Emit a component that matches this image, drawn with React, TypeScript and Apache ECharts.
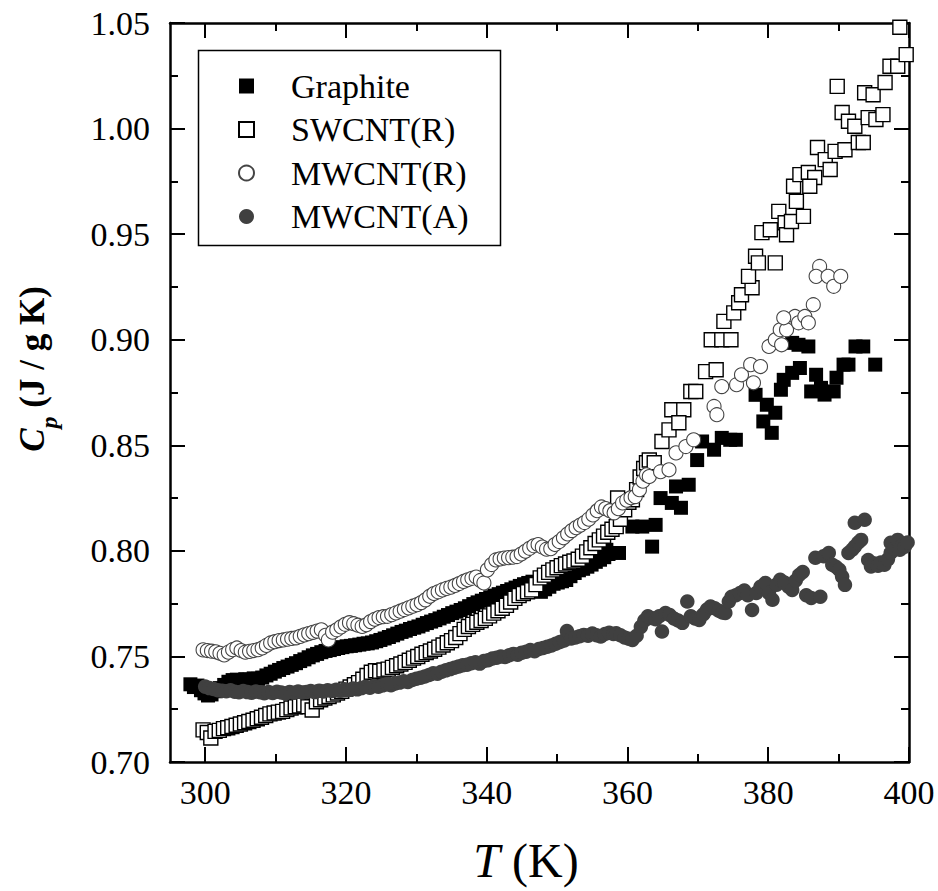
import React, { useEffect, useRef } from "react";
import * as echarts from "echarts";

// [T (K), Cp (J/g K)]
const graphite: [number, number][] = [
  [297.9,0.7368],[298.4,0.7355],[298.9,0.7362],[299.4,0.7340],[299.9,0.7325],[300.4,0.7315],[300.9,0.7320],[301.5,0.7335],
  [302.1,0.7350],[302.7,0.7365],[303.3,0.7380],[303.9,0.7388],[304.5,0.7390],[305.1,0.7386],[305.7,0.7392],[306.3,0.7390],
  [306.9,0.7396],[307.5,0.7394],[308.1,0.7400],[308.7,0.7410],[309.3,0.7418],[309.9,0.7428],[310.5,0.7436],[311.1,0.7445],
  [311.7,0.7452],[312.3,0.7460],[312.9,0.7468],[313.5,0.7478],[314.1,0.7486],[314.7,0.7496],[315.3,0.7505],[315.9,0.7512],
  [316.5,0.7520],[317.1,0.7526],[317.7,0.7530],[318.3,0.7535],[318.9,0.7540],[319.5,0.7544],[320.1,0.7548],[320.7,0.7550],
  [321.3,0.7553],[321.9,0.7556],[322.5,0.7560],[323.1,0.7562],[323.7,0.7566],[324.3,0.7572],[324.9,0.7578],[325.5,0.7585],
  [326.1,0.7592],[326.7,0.7600],[327.3,0.7608],[327.9,0.7616],[328.5,0.7622],[329.1,0.7630],[329.7,0.7636],[330.3,0.7642],
  [330.9,0.7650],[331.5,0.7658],[332.1,0.7665],[332.7,0.7672],[333.3,0.7680],[333.9,0.7688],[334.5,0.7696],[335.1,0.7705],
  [335.7,0.7712],[336.3,0.7720],[336.9,0.7728],[337.5,0.7738],[338.1,0.7748],[338.7,0.7756],[339.3,0.7764],[339.9,0.7772],
  [340.5,0.7780],[341.1,0.7788],[341.7,0.7795],[342.3,0.7802],[342.9,0.7810],[343.5,0.7818],[344.1,0.7826],[344.7,0.7834],
  [345.3,0.7842],[345.9,0.7848],[346.5,0.7854],[347.1,0.7812],[347.7,0.7806],[348.3,0.7818],[348.9,0.7830],[349.5,0.7844],
  [350.1,0.7850],[350.7,0.7856],[351.3,0.7862],[351.9,0.7880],[352.5,0.7895],[353.1,0.7908],[353.7,0.7915],[354.3,0.7925],
  [354.9,0.7935],[355.5,0.7948],[356.1,0.7958],[356.7,0.7970],[357.3,0.7985],
  [357.0,0.8005],[358.8,0.7990],[363.5,0.8020],[360.7,0.8115],[362.1,0.8115],[364.0,0.8123],[364.7,0.8250],[366.3,0.8227],
  [367.6,0.8204],[366.9,0.8305],[368.7,0.8313],[369.9,0.8430],[370.6,0.8518],[372.3,0.8479],[373.4,0.8535],[374.6,0.8526],
  [375.4,0.8526],[378.2,0.8739],[379.8,0.8692],[381.0,0.8654],[379.3,0.8613],[380.5,0.8559],[381.8,0.8763],[382.2,0.8810],
  [383.4,0.8843],[384.5,0.8866],[383.4,0.8985],[384.3,0.8976],[385.7,0.8968],[386.8,0.8834],[386.1,0.8755],[387.5,0.8772],
  [388.0,0.8740],[389.3,0.8755],[389.7,0.8820],[390.7,0.8882],[391.4,0.8882],[392.4,0.8968],[393.5,0.8968],[395.2,0.8882]
];

const swcntR: [number, number][] = [
  [299.7,0.7152],[300.3,0.7140],[300.8,0.7114],[301.4,0.7145],[302.0,0.7150],[302.6,0.7158],[303.2,0.7162],[303.8,0.7168],
  [304.4,0.7174],[305.0,0.7180],[305.6,0.7186],[306.2,0.7192],[306.8,0.7198],[307.4,0.7205],[308.0,0.7212],[308.6,0.7220],
  [309.2,0.7228],[309.8,0.7232],[310.4,0.7236],[311.0,0.7240],[311.6,0.7248],[312.2,0.7256],[312.8,0.7262],[313.4,0.7266],
  [314.0,0.7270],[314.6,0.7262],[315.2,0.7246],[315.8,0.7285],[316.4,0.7295],[317.0,0.7303],[317.6,0.7310],[318.2,0.7318],
  [318.8,0.7327],[319.4,0.7335],[320.0,0.7345],[320.6,0.7355],[321.2,0.7366],[321.8,0.7376],[322.4,0.7392],[323.0,0.7410],
  [323.6,0.7425],[324.2,0.7432],[324.8,0.7430],[325.4,0.7436],[326.0,0.7440],[326.6,0.7448],[327.2,0.7456],[327.8,0.7464],
  [328.4,0.7472],[329.0,0.7482],[329.6,0.7492],[330.2,0.7500],[330.8,0.7510],[331.4,0.7518],[332.0,0.7526],[332.6,0.7534],
  [333.2,0.7544],[333.8,0.7554],[334.4,0.7565],[335.0,0.7575],[335.6,0.7590],[336.2,0.7608],[336.8,0.7628],[337.4,0.7642],
  [338.0,0.7652],[338.6,0.7662],[339.2,0.7670],[339.8,0.7680],[340.4,0.7692],[341.0,0.7705],[341.6,0.7716],[342.2,0.7728],
  [342.8,0.7742],[343.4,0.7758],[344.0,0.7775],[344.6,0.7788],[345.2,0.7798],[345.8,0.7806],[346.4,0.7815],[347.0,0.7840],
  [347.6,0.7872],[348.2,0.7885],[348.8,0.7898],[349.4,0.7910],[350.0,0.7920],[350.6,0.7930],[351.2,0.7938],[351.8,0.7946],
  [352.4,0.7952],[353.0,0.7960],[353.6,0.7975],[354.2,0.7995],[354.8,0.8015],[355.4,0.8035],[356.0,0.8052],[356.6,0.8070],
  [357.2,0.8088],[357.8,0.8102],[358.4,0.8115],[359.0,0.8150],[359.6,0.8195],[360.2,0.8230],[360.7,0.8242],[361.3,0.8290],
  [361.8,0.8350],[362.3,0.8390],[362.7,0.8417],
  [358.6,0.8250],[363.1,0.8430],[363.8,0.8417],[364.9,0.8518],[365.9,0.8573],[366.3,0.8668],[368.0,0.8668],[367.3,0.8607],
  [369.0,0.8755],[369.7,0.8755],[371.1,0.8849],[372.6,0.8858],[371.9,0.9000],[373.4,0.9000],[374.7,0.9000],[373.7,0.9087],
  [375.1,0.9127],[375.8,0.9175],[376.2,0.9213],[377.7,0.9246],[377.2,0.9300],[378.2,0.9395],[378.6,0.9364],[381.0,0.9364],
  [379.1,0.9507],[380.3,0.9521],[381.5,0.9608],[382.4,0.9554],[382.6,0.9497],[383.3,0.9560],[384.0,0.9655],[385.0,0.9584],
  [383.6,0.9727],[384.5,0.9782],[385.7,0.9792],[386.6,0.9768],[385.9,0.9727],[387.0,0.9910],[388.1,0.9853],[388.8,0.9806],
  [389.5,0.9892],[390.9,0.9900],[392.8,0.9934],[393.5,0.9934],[390.5,1.0076],[391.4,1.0035],[392.3,1.0011],[394.2,1.0052],
  [395.3,1.0043],[396.3,1.0066],[389.8,1.0200],[393.7,1.0170],[394.9,1.0160],[396.6,1.0218],[397.3,1.0295],[398.4,1.0295],
  [399.6,1.0350],[398.7,1.0480]
];

const mwcntR: [number, number][] = [
  [299.7,0.7531],[300.3,0.7528],[300.9,0.7525],[301.5,0.7522],[302.1,0.7515],[302.7,0.7507],[303.3,0.7520],[303.9,0.7532],
  [304.5,0.7540],[305.1,0.7528],[305.7,0.7520],[306.3,0.7524],[306.9,0.7528],[307.5,0.7532],[308.1,0.7540],[308.7,0.7552],
  [309.3,0.7564],[309.9,0.7570],[310.5,0.7575],[311.1,0.7578],[311.7,0.7582],[312.3,0.7585],[312.9,0.7588],[313.5,0.7595],
  [314.1,0.7602],[314.7,0.7608],[315.3,0.7614],[315.9,0.7620],[316.5,0.7626],[317.1,0.7600],[317.5,0.7578],[318.1,0.7615],
  [318.7,0.7626],[319.3,0.7640],[319.9,0.7652],[320.5,0.7660],[321.1,0.7655],[321.7,0.7648],[322.3,0.7642],[322.9,0.7650],
  [323.5,0.7665],[324.1,0.7676],[324.7,0.7684],[325.3,0.7688],[325.9,0.7690],[326.5,0.7698],[327.1,0.7706],[327.7,0.7714],
  [328.3,0.7722],[328.9,0.7730],[329.5,0.7738],[330.1,0.7745],[330.7,0.7755],[331.3,0.7768],[331.9,0.7785],[332.5,0.7798],
  [333.1,0.7806],[333.7,0.7815],[334.3,0.7822],[334.9,0.7828],[335.5,0.7836],[336.1,0.7845],[336.7,0.7855],[337.3,0.7863],
  [337.9,0.7870],[338.5,0.7876],[339.1,0.7860],[339.6,0.7848],[340.1,0.7910],[340.7,0.7935],[341.3,0.7957],[341.9,0.7962],
  [342.5,0.7966],[343.1,0.7968],[343.7,0.7970],[344.3,0.7973],[344.9,0.7985],[345.5,0.7998],[346.1,0.8012],[346.7,0.8024],
  [347.3,0.8030],[347.9,0.8018],[348.5,0.8008],[349.1,0.8010],[349.7,0.8030],[350.3,0.8044],[350.9,0.8062],[351.5,0.8080],
  [352.1,0.8096],[352.7,0.8110],[353.3,0.8122],[353.9,0.8134],[354.5,0.8150],[355.1,0.8170],[355.7,0.8190],[356.3,0.8208],
  [356.9,0.8200],[357.5,0.8190],[358.1,0.8180],[358.7,0.8200],[359.3,0.8227],[359.9,0.8240],[360.5,0.8252],[361.1,0.8257],
  [361.7,0.8290],[362.2,0.8330],[362.7,0.8360],
  [363.1,0.8352],[364.7,0.8375],[365.9,0.8384],[366.9,0.8464],[368.3,0.8494],[369.4,0.8526],[372.3,0.8684],[372.7,0.8645],
  [373.4,0.8778],[375.5,0.8787],[376.2,0.8834],[377.5,0.8882],[377.9,0.8796],[378.9,0.8873],[380.1,0.8968],[381.0,0.9000],
  [381.9,0.8976],[381.7,0.9047],[382.6,0.9047],[383.8,0.9110],[384.3,0.9080],[385.2,0.9110],[385.7,0.9080],[382.2,0.9104],
  [386.4,0.9166],[387.3,0.9347],[386.8,0.9300],[388.5,0.9300],[389.3,0.9253],[390.3,0.9300]
];

const mwcntA: [number, number][] = [
  [300.0,0.7357],[300.6,0.7350],[301.2,0.7346],[301.8,0.7340],[302.4,0.7338],[303.0,0.7335],[303.6,0.7340],[304.2,0.7333],
  [304.8,0.7330],[305.4,0.7336],[306.0,0.7331],[306.6,0.7328],[307.2,0.7334],[307.8,0.7330],[308.4,0.7326],[309.0,0.7331],
  [309.6,0.7327],[310.2,0.7333],[310.8,0.7329],[311.4,0.7325],[312.0,0.7331],[312.6,0.7328],[313.2,0.7334],[313.8,0.7329],
  [314.4,0.7332],[315.0,0.7336],[315.6,0.7331],[316.2,0.7338],[316.8,0.7334],[317.4,0.7340],[318.0,0.7336],[318.6,0.7342],
  [319.2,0.7338],[319.8,0.7345],[320.4,0.7341],[321.0,0.7348],[321.6,0.7344],[322.2,0.7350],[322.8,0.7356],[323.4,0.7352],
  [324.0,0.7360],[324.6,0.7356],[325.2,0.7363],[325.8,0.7368],[326.4,0.7364],[327.0,0.7372],[327.6,0.7376],[328.2,0.7382],
  [328.8,0.7379],[329.4,0.7388],[330.0,0.7394],[330.6,0.7399],[331.2,0.7405],[331.8,0.7412],[332.4,0.7420],[333.0,0.7418],
  [333.6,0.7428],[334.2,0.7434],[334.8,0.7440],[335.4,0.7446],[336.0,0.7452],[336.6,0.7458],[337.2,0.7461],[337.8,0.7468],
  [338.4,0.7472],[339.0,0.7466],[339.6,0.7478],[340.2,0.7482],[340.8,0.7490],[341.4,0.7494],[342.0,0.7500],[342.6,0.7497],
  [343.2,0.7506],[343.8,0.7512],[344.4,0.7508],[345.0,0.7518],[345.6,0.7522],[346.2,0.7530],[346.8,0.7525],[347.4,0.7535],
  [348.0,0.7540],[348.6,0.7546],[349.2,0.7552],[349.8,0.7560],[350.4,0.7568],[351.0,0.7575],[351.4,0.7620],[352.0,0.7585],
  [352.6,0.7590],[353.2,0.7596],[353.8,0.7602],[354.4,0.7598],[355.0,0.7608],[355.6,0.7600],[356.2,0.7594],[356.8,0.7606],
  [357.4,0.7612],[358.0,0.7606],[358.4,0.7610],[359.0,0.7600],[359.6,0.7590],[360.2,0.7584],[360.7,0.7578],[361.3,0.7598],
  [361.9,0.7640],[362.4,0.7670],[362.9,0.7690],[363.4,0.7682],[364.0,0.7676],[364.5,0.7690],[364.9,0.7618],[365.4,0.7706],
  [366.0,0.7696],[366.6,0.7680],[367.2,0.7670],[367.8,0.7659],[368.5,0.7760],[369.0,0.7690],[369.6,0.7680],[370.2,0.7673],
  [370.8,0.7700],[371.3,0.7722],[371.8,0.7736],[372.4,0.7728],[373.0,0.7716],[373.5,0.7708],[373.9,0.7706],[374.4,0.7760],
  [374.8,0.7783],[375.4,0.7790],[376.0,0.7800],[376.6,0.7812],[377.1,0.7790],[377.7,0.7720],[378.3,0.7800],[378.9,0.7830],
  [379.6,0.7848],[380.1,0.7800],[380.6,0.7768],[381.2,0.7840],[381.7,0.7863],[382.3,0.7850],[382.9,0.7830],[383.4,0.7815],
  [383.9,0.7860],[384.4,0.7886],[384.9,0.7900],[385.4,0.7790],[386.1,0.7777],[386.7,0.7967],[387.4,0.7783],[387.9,0.7975],
  [388.6,0.7990],[389.1,0.7934],[389.6,0.7925],[390.1,0.7910],[390.5,0.7878],[390.9,0.7839],[391.4,0.7990],[391.9,0.8005],
  [392.3,0.8020],[392.3,0.8133],[392.8,0.8040],[393.2,0.8052],[393.7,0.8147],[394.2,0.7957],[394.6,0.7926],[395.1,0.7940],
  [395.6,0.7930],[396.0,0.7945],[396.5,0.7934],[397.0,0.7960],[397.4,0.7990],[397.4,0.8038],[397.9,0.8010],[398.4,0.8052],
  [398.7,0.8005],[399.1,0.8030],[399.4,0.8020],[399.8,0.8040]
];

const seriesNames = ["Graphite", "SWCNT(R)", "MWCNT(R)", "MWCNT(A)"];
const xMajorTicks = [300, 320, 340, 360, 380, 400];
const xMinorTicks = [310, 330, 350, 370, 390];

const FONT = "Liberation Serif";

export default function App() {
  const ref = useRef<HTMLDivElement>(null);

  useEffect(() => {
    if (!ref.current) return;
    const chart = echarts.init(ref.current, null, { renderer: "svg" });
    const lineStyle = { color: "#000", width: 2.5 };
    const tickStyle = { color: "#000", width: 2 };

    const xAxisBase = {
      type: "value",
      min: 295,
      max: 400,
      gridIndex: 0,
      splitLine: { show: false },
    };
    const yAxisBase = {
      type: "value",
      min: 0.7,
      max: 1.05,
      interval: 0.05,
      splitLine: { show: false },
    };
    const lbl = { fontSize: 34, fontFamily: FONT, color: "#000" };

    const option: any = {
      animation: false,
      backgroundColor: "#fff",
      textStyle: { fontFamily: FONT },
      grid: { left: 170, right: 29, top: 23, bottom: 129 },
      xAxis: [
        {
          ...xAxisBase,
          position: "bottom",
          axisLine: { show: true, onZero: false, lineStyle },
          axisTick: { show: true, inside: true, length: 15, customValues: xMajorTicks, lineStyle: tickStyle },
          axisLabel: { show: true, customValues: xMajorTicks, margin: 13, ...lbl },
        },
        {
          ...xAxisBase,
          position: "bottom",
          axisLine: { show: false, onZero: false },
          axisTick: { show: true, inside: true, length: 8, customValues: xMinorTicks, lineStyle: tickStyle },
          axisLabel: { show: false },
        },
        {
          ...xAxisBase,
          position: "top",
          axisLine: { show: true, onZero: false, lineStyle },
          axisTick: { show: true, inside: true, length: 15, customValues: xMajorTicks, lineStyle: tickStyle },
          axisLabel: { show: false },
        },
        {
          ...xAxisBase,
          position: "top",
          axisLine: { show: false, onZero: false },
          axisTick: { show: true, inside: true, length: 8, customValues: xMinorTicks, lineStyle: tickStyle },
          axisLabel: { show: false },
        },
      ],
      yAxis: [
        {
          ...yAxisBase,
          position: "left",
          axisLine: { show: true, onZero: false, lineStyle },
          axisTick: { show: true, inside: true, length: 15, lineStyle: tickStyle },
          minorTick: { show: true, splitNumber: 2, length: 8, lineStyle: tickStyle },
          axisLabel: { show: true, margin: 20, formatter: (v: number) => v.toFixed(2), ...lbl },
        },
        {
          ...yAxisBase,
          position: "right",
          axisLine: { show: true, onZero: false, lineStyle },
          axisTick: { show: true, inside: true, length: 15, lineStyle: tickStyle },
          minorTick: { show: true, splitNumber: 2, length: 8, lineStyle: tickStyle },
          axisLabel: { show: false },
        },
      ],
      legend: {
        orient: "vertical",
        left: 233,
        top: 64,
        itemWidth: 15,
        itemHeight: 15,
        itemGap: 9.5,
        selectedMode: false,
        data: seriesNames,
        textStyle: { ...lbl, lineHeight: 34, padding: [0, 0, 0, 32] },
      },
      series: [
        {
          name: seriesNames[0],
          type: "scatter",
          xAxisIndex: 0,
          yAxisIndex: 0,
          symbol: "rect",
          symbolSize: 14,
          itemStyle: { color: "#000", opacity: 1 },
          data: graphite,
        },
        {
          name: seriesNames[1],
          type: "scatter",
          xAxisIndex: 0,
          yAxisIndex: 0,
          symbol: "rect",
          symbolSize: 14,
          itemStyle: { color: "#fff", borderColor: "#000", borderWidth: 1.4, opacity: 1 },
          data: swcntR,
        },
        {
          name: seriesNames[2],
          type: "scatter",
          xAxisIndex: 0,
          yAxisIndex: 0,
          symbol: "circle",
          symbolSize: 14,
          itemStyle: { color: "#fff", borderColor: "#444", borderWidth: 1.1, opacity: 1 },
          data: mwcntR,
        },
        {
          name: seriesNames[3],
          type: "scatter",
          xAxisIndex: 0,
          yAxisIndex: 0,
          symbol: "circle",
          symbolSize: 14.5,
          itemStyle: { color: "#404040", opacity: 1 },
          data: mwcntA,
        },
      ],
      graphic: [
        {
          type: "rect",
          left: 196,
          top: 48,
          shape: { x: 0, y: 0, width: 302, height: 195 },
          style: { fill: "none", stroke: "#000", lineWidth: 1.5 },
          z: 100,
        },
        {
          type: "text",
          x: 32,
          y: 369,
          rotation: Math.PI / 2,
          style: {
            text: "{c|C}{p|p}{t| (J / g K)}",
            align: "center",
            verticalAlign: "middle",
            fill: "#000",
            fontFamily: FONT,
            rich: {
              c: { fontSize: 35, fontStyle: "italic", fontWeight: "bold", fontFamily: FONT, lineHeight: 58, fill: "#000" },
              p: { fontSize: 24, fontStyle: "italic", fontWeight: "bold", fontFamily: FONT, lineHeight: 24, verticalAlign: "bottom", fill: "#000" },
              t: { fontSize: 35, fontWeight: "bold", fontFamily: FONT, lineHeight: 58, fill: "#000" },
            },
          },
        },
        {
          type: "text",
          x: 526,
          y: 860,
          style: {
            text: "{i|T}{n| (K)}",
            align: "center",
            verticalAlign: "middle",
            fill: "#000",
            fontFamily: FONT,
            rich: {
              i: { fontSize: 48, fontStyle: "italic", fontFamily: FONT, fill: "#000" },
              n: { fontSize: 48, fontFamily: FONT, fill: "#000" },
            },
          },
        },
      ],
    };

    chart.setOption(option);
    return () => {
      chart.dispose();
    };
  }, []);

  return (
    <div
      ref={ref}
      style={{ position: "fixed", left: 0, top: 0, width: 938, height: 891, background: "#fff" }}
    />
  );
}
